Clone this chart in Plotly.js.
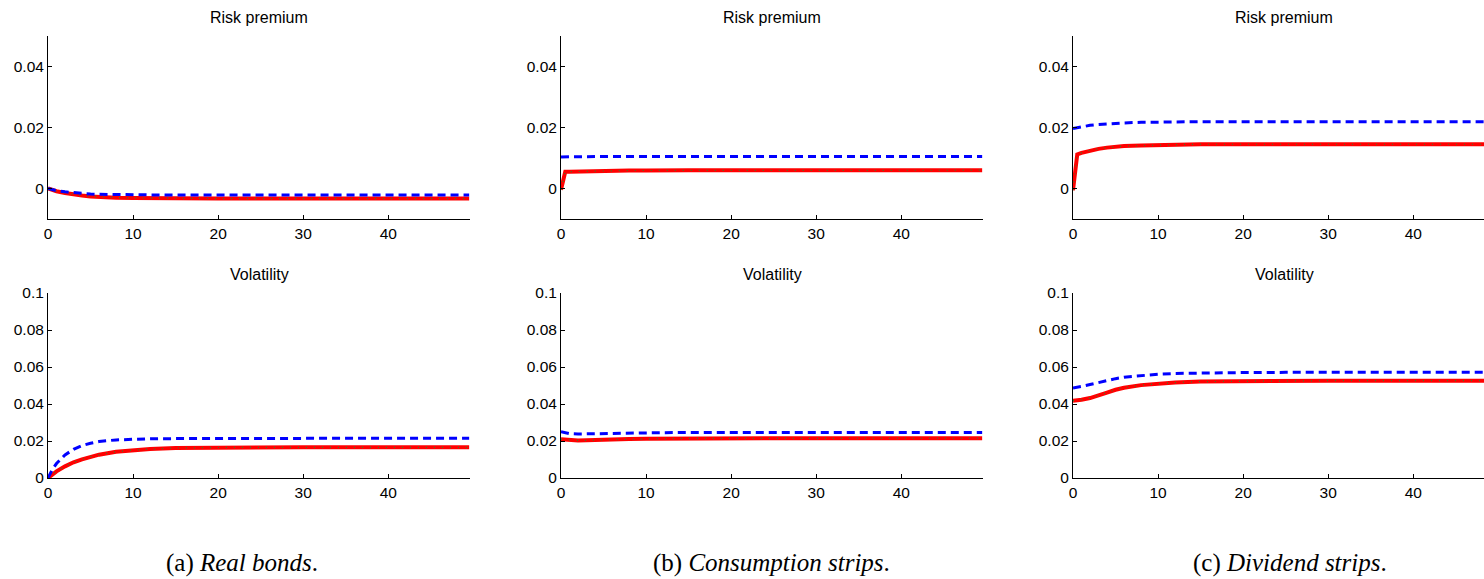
<!DOCTYPE html>
<html>
<head>
<meta charset="utf-8">
<script src="https://cdn.plot.ly/plotly-3.0.1.min.js"></script>
<style>
html,body{margin:0;padding:0;background:#fff;overflow:hidden;width:1484px;height:579px;}
#chart{width:1510px;height:579px;}
</style>
</head>
<body>
<div id="chart"></div>
<script>
// Maturity grid (years)
const maturity = [0, 0.5, 1, 2, 3, 4, 5, 6, 8, 10, 12, 15, 20, 25, 30, 40, 49.5];

// (a) Real bonds
const bondsRiskRed  = [0, -0.0005, -0.0009, -0.0015, -0.0020, -0.0023, -0.0026, -0.0028, -0.0030, -0.0031, -0.0032, -0.0032, -0.0033, -0.0033, -0.0033, -0.0033, -0.0033];
const bondsRiskBlue = [0, -0.0004, -0.0007, -0.0011, -0.0014, -0.0017, -0.0018, -0.0019, -0.0020, -0.0021, -0.0021, -0.0021, -0.0021, -0.0021, -0.0021, -0.0021, -0.0021];
const bondsVolRed   = [0, 0.0019, 0.0036, 0.0063, 0.0085, 0.0101, 0.0116, 0.0126, 0.0142, 0.0151, 0.0157, 0.0162, 0.0165, 0.0166, 0.0166, 0.0166, 0.0166];
const bondsVolBlue  = [0, 0.0045, 0.0078, 0.0125, 0.0155, 0.0175, 0.0188, 0.0197, 0.0206, 0.0210, 0.0212, 0.0213, 0.0214, 0.0215, 0.0215, 0.0215, 0.0215];

// (b) Consumption strips
const consRiskRed  = [-0.0004, 0.0055, 0.0055, 0.0056, 0.0057, 0.0057, 0.0058, 0.0058, 0.0059, 0.0059, 0.0060, 0.0060, 0.0060, 0.0060, 0.0060, 0.0060, 0.0060];
const consRiskBlue = [0.0103, 0.0104, 0.0104, 0.0104, 0.0105, 0.0105, 0.0105, 0.0105, 0.0105, 0.0105, 0.0105, 0.0105, 0.0105, 0.0105, 0.0105, 0.0105, 0.0105];
const consVolRed   = [0.0210, 0.0207, 0.0205, 0.0203, 0.0204, 0.0206, 0.0208, 0.0209, 0.0211, 0.0212, 0.0213, 0.0214, 0.0215, 0.0215, 0.0215, 0.0215, 0.0215];
const consVolBlue  = [0.0250, 0.0244, 0.0240, 0.0238, 0.0239, 0.0240, 0.0241, 0.0242, 0.0243, 0.0244, 0.0245, 0.0246, 0.0246, 0.0246, 0.0246, 0.0246, 0.0246];

// (c) Dividend strips
const divRiskRed  = [-0.0006, 0.0112, 0.0117, 0.0125, 0.0130, 0.0134, 0.0137, 0.0139, 0.0141, 0.0143, 0.0144, 0.0145, 0.0145, 0.0145, 0.0145, 0.0145, 0.0145];
const divRiskBlue = [0.0197, 0.0200, 0.0203, 0.0207, 0.0210, 0.0212, 0.0214, 0.0215, 0.0217, 0.0218, 0.0218, 0.0219, 0.0219, 0.0219, 0.0219, 0.0219, 0.0219];
const divVolRed   = [0.0418, 0.0420, 0.0423, 0.0432, 0.0445, 0.0462, 0.0477, 0.0488, 0.0502, 0.0511, 0.0516, 0.0521, 0.0524, 0.0525, 0.0526, 0.0526, 0.0526];
const divVolBlue  = [0.0487, 0.0490, 0.0495, 0.0505, 0.0517, 0.0528, 0.0537, 0.0545, 0.0555, 0.0561, 0.0565, 0.0568, 0.0570, 0.0571, 0.0571, 0.0571, 0.0571];

// Labels
const panelTitles = ["Risk premium", "Volatility"];
const captionLetters = ["(a)", "(b)", "(c)"];
const captionNames = ["Real bonds", "Consumption strips", "Dividend strips"];
const xTicks = [0, 10, 20, 30, 40];
const riskTicks = [0, 0.02, 0.04];
const riskTickText = ["0", "0.02", "0.04"];
const volTicks = [0, 0.02, 0.04, 0.06, 0.08, 0.1];
const volTickText = ["0", "0.02", "0.04", "0.06", "0.08", "0.1"];

const W = 1510, H = 579;
const colPx = [[48, 470], [561, 983], [1073, 1495]];
const rowPx = [[36, 219], [293, 478]];
const yRanges = [[-0.01, 0.05], [0, 0.1]];
const captionCenters = [242, 771, 1290];

const panels = [
  [[bondsRiskRed, bondsRiskBlue], [bondsVolRed, bondsVolBlue]],
  [[consRiskRed, consRiskBlue], [consVolRed, consVolBlue]],
  [[divRiskRed, divRiskBlue], [divVolRed, divVolBlue]]
];

const sans = "Liberation Sans, Arial, sans-serif";
const traces = [];
const layout = {
  width: W, height: H,
  margin: {l: 0, r: 0, t: 0, b: 0},
  paper_bgcolor: "#fff", plot_bgcolor: "rgba(0,0,0,0)",
  showlegend: false,
  font: {family: sans, size: 15, color: "#000"},
  annotations: []
};

let idx = 0;
for (let c = 0; c < 3; c++) {
  for (let r = 0; r < 2; r++) {
    idx++;
    const xn = idx === 1 ? "x" : "x" + idx;
    const yn = idx === 1 ? "y" : "y" + idx;
    const [red, blue] = panels[c][r];
    traces.push({x: maturity, y: red, xaxis: xn, yaxis: yn, mode: "lines",
      line: {color: "#ff0000", width: 4}, hoverinfo: "skip"});
    traces.push({x: maturity, y: red, xaxis: xn, yaxis: yn, mode: "lines",
      line: {color: "#2e8b2e", width: 1.2, dash: "1px,7px"}, hoverinfo: "skip"});
    traces.push({x: maturity, y: blue, xaxis: xn, yaxis: yn, mode: "lines",
      line: {color: "#0000ff", width: 3, dash: "8px,5px"}, hoverinfo: "skip"});

    const xd = [colPx[c][0] / W, colPx[c][1] / W];
    const yd = [1 - rowPx[r][1] / H, 1 - rowPx[r][0] / H];
    const axCommon = {showgrid: false, zeroline: false, showline: true, linecolor: "#000",
      linewidth: 1, ticks: "inside", ticklen: 4, tickcolor: "#000", tickwidth: 1,
      tickfont: {family: sans, size: 15.5, color: "#000"}, fixedrange: true};
    layout["xaxis" + (idx === 1 ? "" : idx)] = Object.assign({}, axCommon, {
      domain: xd, range: [0, 49.6], tickmode: "array", tickvals: xTicks,
      anchor: yn});
    layout["yaxis" + (idx === 1 ? "" : idx)] = Object.assign({}, axCommon, {
      domain: yd, range: yRanges[r], tickmode: "array",
      tickvals: r === 0 ? riskTicks : volTicks,
      ticktext: r === 0 ? riskTickText : volTickText,
      anchor: xn});
    layout.annotations.push({
      text: panelTitles[r], xref: "paper", yref: "paper",
      x: (colPx[c][0] + colPx[c][1]) / 2 / W, y: 1 - (rowPx[r][0] - 19) / H,
      xanchor: "center", yanchor: "middle", showarrow: false,
      font: {family: sans, size: 16, color: "#000"}
    });
  }
  layout.annotations.push({
    text: captionLetters[c] + " <i>" + captionNames[c] + "</i>.",
    xref: "paper", yref: "paper",
    x: captionCenters[c] / W, y: 1 - 563 / H,
    xanchor: "center", yanchor: "middle", showarrow: false,
    font: {family: "Liberation Serif, Times New Roman, serif", size: 25, color: "#000"}
  });
}

Plotly.newPlot("chart", traces, layout, {staticPlot: true, displayModeBar: false});
</script>
</body>
</html>
